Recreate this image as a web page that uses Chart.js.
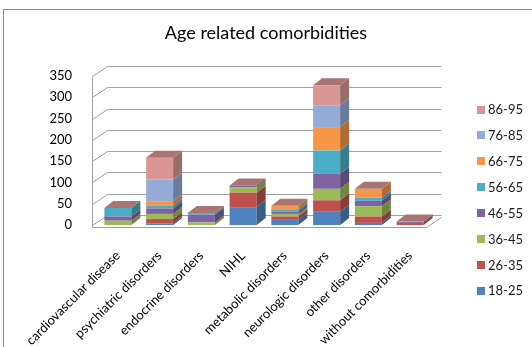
<!DOCTYPE html>
<html>
<head>
<meta charset="utf-8">
<script src="https://cdn.jsdelivr.net/npm/chart.js@4.4.1/dist/chart.umd.min.js"></script>
<style>
  html, body { margin: 0; padding: 0; background: #fff; }
  #wrap { width: 532px; height: 347px; }
</style>
</head>
<body>
<div id="wrap"><canvas id="c" width="532" height="347"></canvas></div>
<script>
// Categories along the x axis
const categories = [
  'cardiovascular disease', 'psychiatric disorders', 'endocrine disorders', 'NIHL',
  'metabolic disorders', 'neurologic disorders', 'other disorders', 'without comorbidities'
];

// Age groups (stack order, bottom to top)
const ageGroups = ['18-25', '26-35', '36-45', '46-55', '56-65', '66-75', '76-85', '86-95'];

// Patients per age group for each category
const age18_25 = [0, 4, 0, 42, 12, 31, 5, 0];
const age26_35 = [0, 10, 0, 34, 8, 27, 15, 5];
const age36_45 = [10, 12, 6, 13, 6, 27, 24, 0];
const age46_55 = [10, 13, 18, 4, 6, 35, 13, 3];
const age56_65 = [20, 6, 4, 0, 5, 55, 7, 0];
const age66_75 = [0, 11, 0, 0, 8, 55, 21, 0];
const age76_85 = [0, 51, 0, 0, 0, 51, 0, 0];
const age86_95 = [0, 51, 0, 0, 0, 47, 0, 0];

// Y axis tick values
const yTickValues = [0, 50, 100, 150, 200, 250, 300, 350];

const seriesValues = [age18_25, age26_35, age36_45, age46_55, age56_65, age66_75, age76_85, age86_95];
const seriesColors = ['#4F81BD', '#C0504D', '#9BBB59', '#8064A2', '#4BACC6', '#F79646', '#95ABD8', '#D99694'];

// depth of the walls and of each bar
const WALL_DX = 15, WALL_DY = -10;
const BAR_DX = 9, BAR_DY = -7;

function shade(hex, f) {
  const n = parseInt(hex.slice(1), 16);
  const r = Math.round(((n >> 16) & 255) * f);
  const g = Math.round(((n >> 8) & 255) * f);
  const b = Math.round((n & 255) * f);
  return `rgb(${r},${g},${b})`;
}

const depthPlugin = {
  id: 'depth3d',
  afterLayout(chart) {
    // centre the title across the whole canvas, legend column included
    const t = chart.titleBlock;
    if (t) { t.left = 0; t.right = chart.width; t.width = chart.width; }
  },
  beforeDraw(chart) {
    const { ctx } = chart;
    ctx.save();
    ctx.fillStyle = '#fff';
    ctx.fillRect(0, 0, chart.width, chart.height);
    ctx.strokeStyle = '#8a8a8a';
    ctx.lineWidth = 1;
    ctx.strokeRect(3.5, 9.5, chart.width + 10, chart.height + 10);
    ctx.restore();
  },
  beforeDatasetsDraw(chart) {
    const { ctx, chartArea: a, scales: { y } } = chart;
    const wl = a.left - 4.5;
    const fr = a.right - 4.5;
    ctx.save();
    ctx.strokeStyle = '#a0a0a0';
    ctx.lineWidth = 1;
    y.ticks.forEach(t => {
      const py = Math.round(y.getPixelForValue(t.value)) + 0.5;
      ctx.beginPath();
      ctx.moveTo(wl, py);
      ctx.lineTo(wl + WALL_DX, py + WALL_DY);
      ctx.lineTo(fr + WALL_DX, py + WALL_DY);
      ctx.stroke();
    });
    const top = Math.round(y.getPixelForValue(y.max)) + 0.5;
    const base = Math.round(y.getPixelForValue(0)) + 2.5;
    ctx.beginPath();
    ctx.moveTo(wl, top);
    ctx.lineTo(wl, base);
    ctx.lineTo(fr, base);
    ctx.lineTo(fr + WALL_DX, base + WALL_DY);
    ctx.stroke();
    ctx.restore();
  },
  afterDatasetsDraw(chart) {
    const { ctx } = chart;
    const nSets = chart.data.datasets.length;
    ctx.save();
    chart.data.labels.forEach((_, i) => {
      let topY = null, xl = 0, xr = 0;
      for (let d = 0; d < nSets; d++) {
        const el = chart.getDatasetMeta(d).data[i];
        const p = el.getProps(['x', 'y', 'base', 'width'], true);
        xl = p.x - p.width / 2;
        xr = p.x + p.width / 2;
        const yt = Math.min(p.y, p.base), yb = Math.max(p.y, p.base);
        if (yb - yt > 0.01) {
          ctx.fillStyle = shade(seriesColors[d], 0.72);
          ctx.beginPath();
          ctx.moveTo(xr, yt);
          ctx.lineTo(xr + BAR_DX, yt + BAR_DY);
          ctx.lineTo(xr + BAR_DX, yb + BAR_DY);
          ctx.lineTo(xr, yb);
          ctx.closePath();
          ctx.fill();
        }
        topY = yt;
      }
      ctx.fillStyle = shade(seriesColors[nSets - 1], 0.78);
      ctx.beginPath();
      ctx.moveTo(xl, topY);
      ctx.lineTo(xr, topY);
      ctx.lineTo(xr + BAR_DX, topY + BAR_DY);
      ctx.lineTo(xl + BAR_DX, topY + BAR_DY);
      ctx.closePath();
      ctx.fill();
    });
    ctx.restore();
  },
  afterDraw(chart) {
    // legend on the right, oldest age group on top
    const { ctx } = chart;
    const ds = chart.data.datasets;
    ctx.save();
    ctx.font = '13px Lato';
    ctx.textBaseline = 'middle';
    ctx.textAlign = 'left';
    for (let k = 0; k < ds.length; k++) {
      const d = ds.length - 1 - k;
      const cy = 109.5 + k * 25.9;
      ctx.fillStyle = ds[d].backgroundColor;
      ctx.fillRect(477, Math.round(cy - 4), 8, 8);
      ctx.fillStyle = '#1a1a1a';
      ctx.fillText(ds[d].label, 488, cy + 0.5);
    }
    ctx.restore();
  }
};

new Chart(document.getElementById('c'), {
  type: 'bar',
  data: {
    labels: categories,
    datasets: ageGroups.map((g, i) => ({
      label: g,
      data: seriesValues[i],
      backgroundColor: seriesColors[i],
      borderWidth: 0,
      barPercentage: 0.647,
      categoryPercentage: 1
    }))
  },
  options: {
    responsive: false,
    animation: false,
    devicePixelRatio: 1,
    layout: { padding: { top: 10, right: 101, left: 0, bottom: 0 } },
    plugins: {
      legend: { display: false },
      tooltip: { enabled: false },
      title: {
        display: true,
        text: 'Age related comorbidities',
        color: '#000',
        font: { family: 'Lato', size: 18, weight: 'normal' },
        padding: { top: 12, bottom: 32.4 }
      }
    },
    scales: {
      x: {
        stacked: true,
        grid: { display: false },
        border: { display: false },
        ticks: {
          autoSkip: false,
          minRotation: 45,
          maxRotation: 45,
          padding: 15,
          color: '#000',
          font: { family: 'Lato', size: 13 }
        },
        afterFit(scale) { scale.height = 122; }
      },
      y: {
        stacked: true,
        min: 0,
        max: 350,
        grid: { display: false },
        border: { display: false },
        afterBuildTicks(scale) { scale.ticks = yTickValues.map(v => ({ value: v })); },
        ticks: {
          padding: 17,
          color: '#000',
          font: { family: 'Lato', size: 13 }
        },
        afterFit(scale) { scale.width = 97; }
      }
    }
  },
  plugins: [depthPlugin]
});
</script>
</body>
</html>
